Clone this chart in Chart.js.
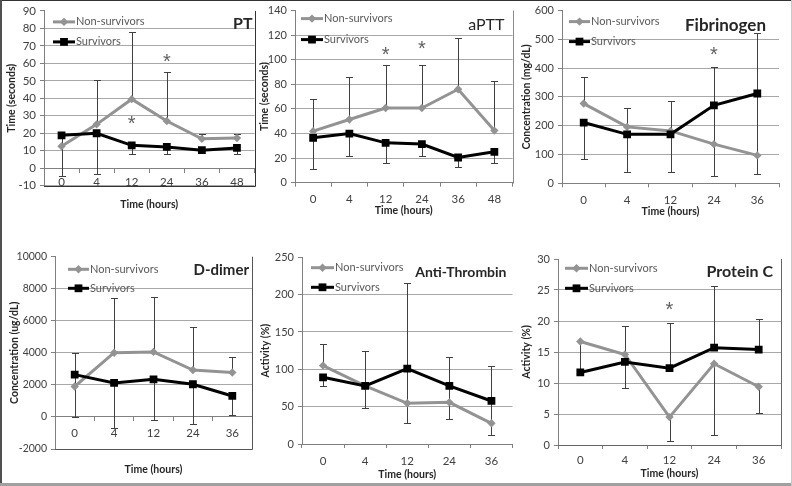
<!DOCTYPE html>
<html><head><meta charset="utf-8">
<script src="https://cdn.jsdelivr.net/npm/chart.js@4.4.0/dist/chart.umd.min.js"></script>
<style>
html,body{margin:0;padding:0;background:#fff;overflow:hidden}
#wrap{position:relative;width:792px;height:486px;overflow:hidden;background:#fff}
#wrap canvas{position:absolute}
.fr{position:absolute}
</style></head><body>
<div id="wrap">
<canvas id="cPT"></canvas><canvas id="cAPTT"></canvas><canvas id="cFIB"></canvas>
<canvas id="cDD"></canvas><canvas id="cAT"></canvas><canvas id="cPC"></canvas>
<div class="fr" style="left:0;top:0;width:792px;height:1px;background:#333"></div>
<div class="fr" style="left:0;top:0;width:2px;height:486px;background:#505050"></div>
<div class="fr" style="left:0;top:483px;width:792px;height:3px;background:#a0a0a0"></div>
<div class="fr" style="left:791px;top:0;width:1px;height:486px;background:#c8c8c8"></div>
</div>
<script>
// ---------- data ----------
const hours6 = ['0','4','12','24','36','48'];
const hours5 = ['0','4','12','24','36'];

const ptNonSurvivors      = [12.6, 25.1, 39.5, 27.0, 16.8, 17.3];
const ptNonSurvivorsErr   = [null, 50.7, 77.7, 55.3, 19.8, 19.4];
const ptSurvivors         = [18.8, 20.0, 13.1, 12.2, 10.3, 11.6];
const ptSurvivorsErr      = [-4.3, -3.4, 8.4, 8.0, null, 8.0];
const ptStarIdx = [2, 3];
const ptStarVal = [27.4, 63];

const apttNonSurvivors    = [41.9, 51.4, 60.8, 60.8, 76.0, 42.4];
const apttNonSurvivorsErr = [67.8, 86.2, 96.0, 96.0, 117.6, 82.4];
const apttSurvivors       = [36.5, 40.0, 32.4, 31.4, 20.5, 25.1];
const apttSurvivorsErr    = [11.1, 21.6, 16.0, 21.6, 13.0, 16.0];
const apttStarIdx = [2, 3];
const apttStarVal = [107, 112];

const fibNonSurvivors     = [277, 196, 182, 136, 97];
const fibNonSurvivorsErr  = [369, 260, 285, 403, 523];
const fibSurvivors        = [211, 170, 170, 271, 312];
const fibSurvivorsErr     = [83, 38, 38, 24, 32];
const fibStarIdx = [3];
const fibStarVal = [459];

const ddNonSurvivors      = [1900, 4010, 4060, 2930, 2770];
const ddNonSurvivorsErr   = [3980, 7400, 7500, 5630, 3760];
const ddSurvivors         = [2640, 2120, 2350, 2040, 1310];
const ddSurvivorsErr      = [0, -700, -200, -440, 150];

const atNonSurvivors      = [105, 77.7, 54.5, 55.8, 27.7];
const atNonSurvivorsErr   = [134, 125, 215, 116, 104];
const atSurvivors         = [89.3, 77.7, 101, 77.7, 57.6];
const atSurvivorsErr      = [78, 48, 27.7, 33.5, 12];

const pcNonSurvivors      = [16.7, 14.6, 4.5, 13.1, 9.4];
const pcNonSurvivorsErr   = [null, 9.25, 0.65, 1.6, 5.2];
const pcSurvivors         = [11.7, 13.4, 12.4, 15.7, 15.4];
const pcSurvivorsErr      = [16.7, 19.2, 19.6, 25.6, 20.3];
const pcStarIdx = [2];
const pcStarVal = [22.3];

// ---------- drawing ----------
const FONT = 'Lato, "Liberation Sans", sans-serif';
const GRAY = '#939393';

function deco(cfg) {
  return {
    id: 'deco',
    beforeDatasetsDraw(chart) {
      const {ctx, scales: {x, y}} = chart;
      ctx.save();
      ctx.strokeStyle = '#404040'; ctx.lineWidth = 1;
      [[cfg.ns, cfg.nsErr], [cfg.s, cfg.sErr]].forEach(([vals, ends]) => {
        vals.forEach((v, i) => {
          const e = ends[i];
          if (e === null || e === undefined) return;
          const px = Math.round(x.getPixelForValue(i)) + 0.5;
          const y0 = y.getPixelForValue(v), y1 = Math.round(y.getPixelForValue(e)) + 0.5;
          ctx.beginPath();
          ctx.moveTo(px, y0); ctx.lineTo(px, y1);
          ctx.moveTo(px - 3.5, y1); ctx.lineTo(px + 3.5, y1);
          ctx.stroke();
        });
      });
      ctx.restore();
    },
    afterDatasetsDraw(chart) {
      const {ctx, chartArea: ca, scales: {x, y}} = chart;
      ctx.save();
      // frame lines
      if (cfg.frameColor) {
        ctx.strokeStyle = cfg.frameColor; ctx.lineWidth = 1;
        ctx.beginPath();
        const r = Math.round(ca.right) + 0.5, b = Math.round(ca.bottom) + 0.5;
        if (cfg.frameBottom) { ctx.moveTo(ca.left, b); ctx.lineTo(r, b); }
        ctx.moveTo(r, b); ctx.lineTo(r, ca.top);
        ctx.stroke();
      }
      // asterisks
      if (cfg.starIdx) {
        ctx.fillStyle = '#606060';
        ctx.font = '20px "Liberation Sans", sans-serif';
        ctx.textAlign = 'center'; ctx.textBaseline = 'middle';
        cfg.starIdx.forEach((idx, k) => {
          ctx.fillText('*', x.getPixelForValue(idx), y.getPixelForValue(cfg.starVal[k]) + 4);
        });
      }
      // legend
      const lg = cfg.legend;
      const rows = [
        {text: 'Non-survivors', color: GRAY, style: 'rectRot', r: 4.2, dy: lg[2]},
        {text: 'Survivors', color: '#000', style: 'rect', r: 5.5, dy: lg[3]}
      ];
      rows.forEach(row => {
        const yy = ca.top + row.dy;
        const x0 = ca.left + lg[0], x1 = ca.left + lg[1];
        ctx.strokeStyle = row.color; ctx.lineWidth = 3;
        ctx.beginPath(); ctx.moveTo(x0, yy); ctx.lineTo(x1, yy); ctx.stroke();
        ctx.fillStyle = row.color;
        Chart.helpers.drawPoint(ctx, {pointStyle: row.style, radius: row.r, borderWidth: 0}, (x0 + x1) / 2, yy);
        ctx.fillStyle = '#595959';
        ctx.font = '11px ' + FONT;
        ctx.textAlign = 'left'; ctx.textBaseline = 'middle';
        ctx.fillText(row.text, x1 + 1, yy);
      });
      // panel title
      ctx.fillStyle = '#262626';
      ctx.font = cfg.titleFont + ' ' + FONT;
      ctx.textAlign = 'right'; ctx.textBaseline = 'middle';
      ctx.fillText(cfg.title, ca.right - cfg.titlePos[0], ca.top + cfg.titlePos[1]);
      ctx.restore();
    }
  };
}

function makePanel(id, box, plot, cfg) {
  const [cx, cy, cw, ch] = box;
  const [L, T, R, B] = plot;
  const el = document.getElementById(id);
  el.width = cw; el.height = ch;
  el.style.left = cx + 'px'; el.style.top = cy + 'px';
  el.style.width = cw + 'px'; el.style.height = ch + 'px';
  const ymax = cfg.ymax;
  const bottomSpace = (cy + ch) - B;
  const tickSize = cfg.tickSize || 11;
  new Chart(el, {
    type: 'line',
    data: {
      labels: cfg.labels,
      datasets: [
        {label: 'Non-survivors', data: cfg.ns, order: 1, borderColor: GRAY, backgroundColor: GRAY,
         borderWidth: 3, pointStyle: 'rectRot', pointRadius: 4.2, pointBorderWidth: 0, tension: 0},
        {label: 'Survivors', data: cfg.s, order: 0, borderColor: '#000', backgroundColor: '#000',
         borderWidth: 3, pointStyle: 'rect', pointRadius: 5.5, pointBorderWidth: 0, tension: 0}
      ]
    },
    options: {
      responsive: false, animation: false, devicePixelRatio: 1,
      layout: {padding: {left: 0, top: T - cy, right: (cx + cw) - R, bottom: cfg.xAt0 ? bottomSpace : 0}},
      plugins: {legend: {display: false}, tooltip: {enabled: false}},
      scales: {
        x: {
          type: 'category', offset: true,
          position: cfg.xAt0 ? {y: 0} : 'bottom',
          afterFit: s => { s.height = bottomSpace; },
          grid: {display: true, drawOnChartArea: false, drawTicks: true, tickLength: 4, offset: true, color: '#808080'},
          border: {display: true, color: '#808080'},
          ticks: {color: '#404040', font: {family: FONT, size: 11.5}, padding: cfg.xPad, maxRotation: 0, autoSkip: false},
          title: {display: true, text: 'Time (hours)', color: '#262626',
                  font: {family: FONT, size: 10.5, weight: 'bold'}, padding: {top: 0, bottom: cfg.xtPad}}
        },
        y: {
          min: cfg.ymin, max: ymax,
          afterFit: s => { s.width = L - cx; },
          grid: {color: c => (c.tick && c.tick.value === ymax) ? 'rgba(0,0,0,0)' : '#a8a8a8',
                 tickColor: '#808080', tickLength: 4},
          border: {display: true, color: '#808080'},
          ticks: {stepSize: cfg.step, color: '#404040', font: {family: FONT, size: tickSize}, padding: 4,
                  callback: v => String(v)},
          title: {display: true, text: cfg.ytitle, color: '#262626',
                  font: {family: FONT, size: 10.5, weight: 'bold'}, padding: {top: cfg.ytPad, bottom: 0}}
        }
      }
    },
    plugins: [deco(cfg)]
  });
}

makePanel('cPT', [3, 0, 257, 232], [44, 10, 257, 185.7], {
  labels: hours6, ns: ptNonSurvivors, nsErr: ptNonSurvivorsErr, s: ptSurvivors, sErr: ptSurvivorsErr,
  starIdx: ptStarIdx, starVal: ptStarVal, ymin: -10, ymax: 90, step: 10, xAt0: true, tickSize: 11.5,
  xPad: 3, xtPad: 4.1, ytPad: 2.7, ytitle: 'Time (seconds)',
  title: 'PT', titleFont: 'bold 16px', titlePos: [2, 13],
  legend: [9, 31, 11, 31], frameColor: '#333', frameBottom: true
});
makePanel('cAPTT', [258, 0, 260, 220], [295, 10, 514, 182.7], {
  labels: hours6, ns: apttNonSurvivors, nsErr: apttNonSurvivorsErr, s: apttSurvivors, sErr: apttSurvivorsErr,
  starIdx: apttStarIdx, starVal: apttStarVal, ymin: 0, ymax: 140, step: 20, xAt0: false,
  xPad: 6, xtPad: 2.7, ytPad: 0.7, ytitle: 'Time (seconds)',
  title: 'aPTT', titleFont: '16px', titlePos: [8, 14],
  legend: [6, 28, 8, 29], frameColor: '#8a8a8a', frameBottom: false
});
makePanel('cFIB', [518, 0, 271, 222], [562, 10, 779, 183.3], {
  labels: hours5, ns: fibNonSurvivors, nsErr: fibNonSurvivorsErr, s: fibSurvivors, sErr: fibSurvivorsErr,
  starIdx: fibStarIdx, starVal: fibStarVal, ymin: 0, ymax: 600, step: 100, xAt0: false,
  xPad: 6.1, xtPad: 3.7, ytPad: 2.7, ytitle: 'Concentration (mg/dL)',
  title: 'Fibrinogen', titleFont: 'bold 17px', titlePos: [13, 15],
  legend: [7, 28, 11, 31], frameColor: null
});
makePanel('cDD', [3, 244, 257, 239], [55, 256.7, 252, 449], {
  labels: hours5, ns: ddNonSurvivors, nsErr: ddNonSurvivorsErr, s: ddSurvivors, sErr: ddSurvivorsErr,
  ymin: -2000, ymax: 10000, step: 2000, xAt0: true, tickSize: 10.5,
  xPad: 5.2, xtPad: -25.3, ytPad: 5.2, ytitle: 'Concentration (ug/dL)',
  title: 'D-dimer', titleFont: 'bold 15px', titlePos: [3, 13],
  legend: [13, 34, 12.6, 31.6], frameColor: '#555', frameBottom: true
});
makePanel('cAT', [258, 244, 260, 239], [302, 257.3, 514, 444], {
  labels: hours5, ns: atNonSurvivors, nsErr: atNonSurvivorsErr, s: atSurvivors, sErr: atSurvivorsErr,
  ymin: 0, ymax: 250, step: 50, xAt0: false,
  xPad: 6.1, xtPad: 2.4, ytPad: 1.7, ytitle: 'Activity (%)',
  title: 'Anti-Thrombin', titleFont: 'bold 14px', titlePos: [6, 15],
  legend: [9, 32, 10.4, 30], frameColor: null
});
makePanel('cPC', [518, 244, 271, 239], [558, 259, 781, 445], {
  labels: hours5, ns: pcNonSurvivors, nsErr: pcNonSurvivorsErr, s: pcSurvivors, sErr: pcSurvivorsErr,
  starIdx: pcStarIdx, starVal: pcStarVal, ymin: 0, ymax: 30, step: 5, xAt0: false,
  xPad: 4.4, xtPad: 3.4, ytPad: 2.7, ytitle: 'Activity (%)',
  title: 'Protein C', titleFont: 'bold 16px', titlePos: [8, 13],
  legend: [7, 30, 9.3, 29.3], frameColor: '#666', frameBottom: true
});
</script>
</body></html>
